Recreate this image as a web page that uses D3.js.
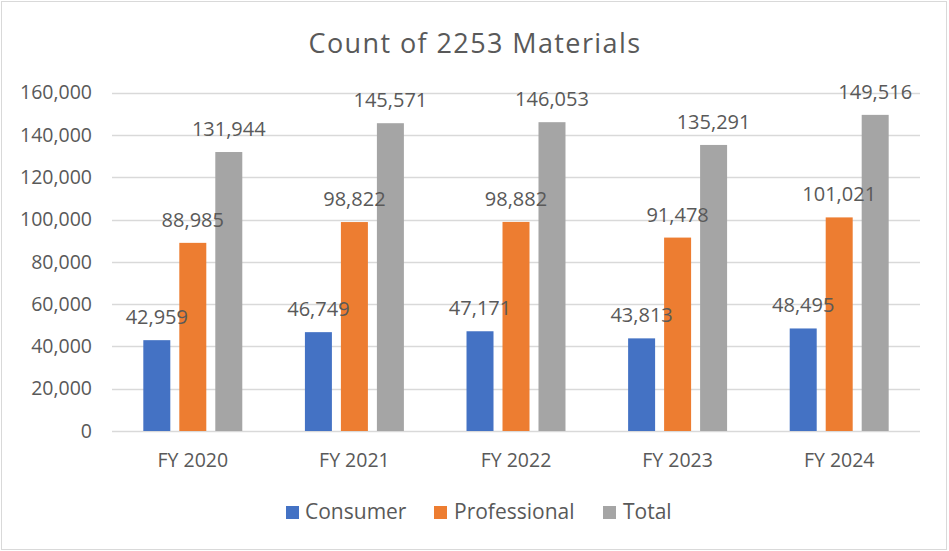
<!DOCTYPE html>
<html>
<head>
<meta charset="utf-8">
<script src="https://cdn.jsdelivr.net/npm/d3@7"></script>
<style>
  html, body { margin: 0; padding: 0; background: #ffffff; }
  svg { display: block; }
  text { font-family: "Open Sans", "Noto Sans", sans-serif; fill: #595959; }
</style>
</head>
<body>
<svg id="chart" width="949" height="551"></svg>
<script>
const categories = ["FY 2020", "FY 2021", "FY 2022", "FY 2023", "FY 2024"];
const seriesNames = ["Consumer", "Professional", "Total"];
const consumer = [42959, 46749, 47171, 43813, 48495];
const professional = [88985, 98822, 98882, 91478, 101021];
const total = [131944, 145571, 146053, 135291, 149516];
const yTicks = [0, 20000, 40000, 60000, 80000, 100000, 120000, 140000, 160000];
const colors = ["#4472C4", "#ED7D31", "#A5A5A5"];
const title = "Count of 2253 Materials";

const seriesValues = [consumer, professional, total];
const W = 949, H = 551;
const plot = { left: 112, right: 920, top: 92.7, bottom: 431 };
const FONT = '"Open Sans", "Noto Sans", sans-serif';

const svg = d3.select("#chart");

// chart border
svg.append("rect")
  .attr("x", 1.5).attr("y", 1.5)
  .attr("width", W - 4).attr("height", H - 3)
  .attr("fill", "#fff").attr("stroke", "#D9D9D9").attr("stroke-width", 1);

// title
svg.append("text")
  .attr("x", 475).attr("y", 53)
  .attr("text-anchor", "middle")
  .style("font-size", "27px")
  .style("letter-spacing", "1.4px")
  .text(title);

const y = d3.scaleLinear().domain([0, 160000]).range([plot.bottom, plot.top]);
const x0 = d3.scaleBand().domain(categories).range([plot.left, plot.right]).padding(0);
const x1 = d3.scaleBand().domain(seriesNames).range([0, x0.bandwidth()])
  .paddingInner(0.25).paddingOuter(0.87);

// gridlines
svg.append("g").selectAll("line").data(yTicks).join("line")
  .attr("x1", plot.left).attr("x2", plot.right)
  .attr("y1", d => Math.round(y(d)) + 0.5).attr("y2", d => Math.round(y(d)) + 0.5)
  .attr("stroke", "#D9D9D9").attr("stroke-width", 1.3);

// y axis labels
const fmt = d3.format(",");
const yAxis = d3.axisLeft(y).tickValues(yTicks).tickFormat(fmt).tickSize(0).tickPadding(0);
const yg = svg.append("g").attr("transform", `translate(${plot.left - 20},0)`).call(yAxis);
yg.select(".domain").remove();
yg.selectAll("text").style("font-size", "19.5px").attr("fill", "#595959")
  .style("font-family", FONT);

// x axis labels
const xAxis = d3.axisBottom(x0).tickSize(0).tickPadding(0);
const xg = svg.append("g").attr("transform", `translate(0,${plot.bottom + 22.5})`).call(xAxis);
xg.select(".domain").remove();
xg.selectAll("text").style("font-size", "19.5px").attr("fill", "#595959")
  .style("font-family", FONT);

// bars
const rows = [];
categories.forEach((c, i) => {
  seriesNames.forEach((s, j) => rows.push({ cat: c, series: s, value: seriesValues[j][i], color: colors[j] }));
});

svg.append("g").selectAll("rect").data(rows).join("rect")
  .attr("x", d => x0(d.cat) + x1(d.series))
  .attr("y", d => y(d.value))
  .attr("width", x1.bandwidth())
  .attr("height", d => y(0) - y(d.value))
  .attr("fill", d => d.color);

// data labels
svg.append("g").selectAll("text").data(rows).join("text")
  .attr("x", d => x0(d.cat) + x1(d.series) + x1.bandwidth() / 2)
  .attr("y", d => y(d.value) - 16)
  .attr("text-anchor", "middle")
  .style("font-size", "20px")
  .attr("fill", "#404040")
  .text(d => fmt(d.value));

// legend
const legendItems = [
  { name: seriesNames[0], color: colors[0], bx: 286, tx: 305 },
  { name: seriesNames[1], color: colors[1], bx: 434, tx: 454 },
  { name: seriesNames[2], color: colors[2], bx: 603, tx: 623 }
];
const lg = svg.append("g");
lg.selectAll("rect").data(legendItems).join("rect")
  .attr("x", d => d.bx).attr("y", 506).attr("width", 13).attr("height", 13)
  .attr("fill", d => d.color);
lg.selectAll("text").data(legendItems).join("text")
  .attr("x", d => d.tx).attr("y", 519)
  .style("font-size", "21px")
  .text(d => d.name);
</script>
</body>
</html>
